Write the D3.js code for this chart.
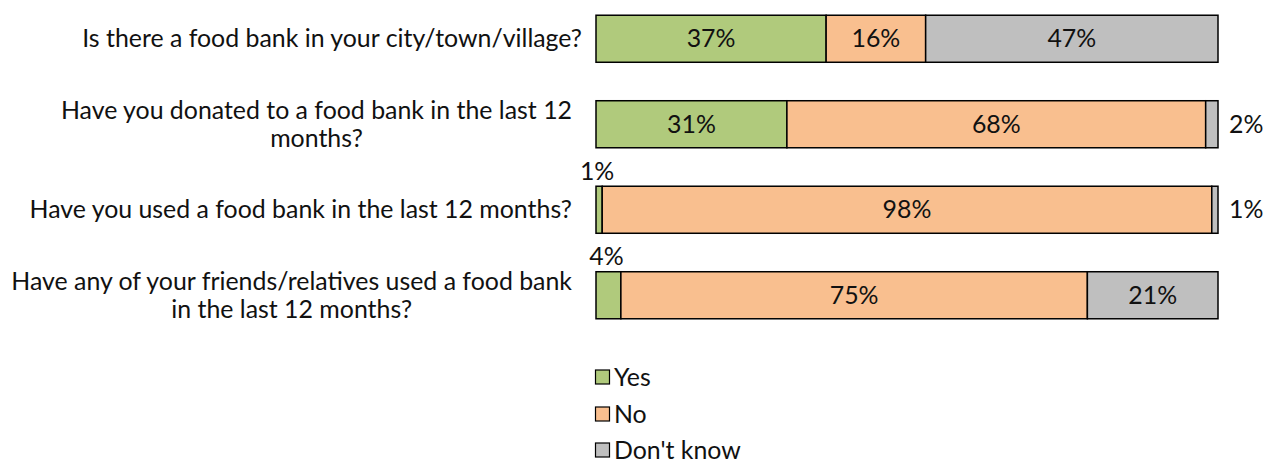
<!DOCTYPE html>
<html>
<head>
<meta charset="utf-8">
<script src="https://cdn.jsdelivr.net/npm/d3@7"></script>
<style>
  html, body { margin: 0; padding: 0; background: #fff; }
  svg { display: block; }
  text { font-family: Lato, "Open Sans", sans-serif; fill: #111; }
</style>
</head>
<body>
<svg id="chart" width="1263" height="464"></svg>
<script>
// Survey questions (one bar each) and the share of answers per option, in percent
const questions = [
  "Is there a food bank in your city/town/village?",
  "Have you donated to a food bank in the last 12 months?",
  "Have you used a food bank in the last 12 months?",
  "Have any of your friends/relatives used a food bank in the last 12 months?"
];
const answers = ["Yes", "No", "Don't know"];
const yesValues = [37, 31, 1, 4];
const noValues = [16, 68, 98, 75];
const dontKnowValues = [47, 2, 1, 21];

// Manual line breaks for the longer question labels
const questionLines = [
  ["Is there a food bank in your city/town/village?"],
  ["Have you donated to a food bank in the last 12", "months?"],
  ["Have you used a food bank in the last 12 months?"],
  ["Have any of your friends/relatives used a food bank", "in the last 12 months?"]
];

const colors = { "Yes": "#b0ca7c", "No": "#f9bf8f", "Don't know": "#bfbfbf" };

const rows = questions.map((q, i) => ({
  question: q,
  "Yes": yesValues[i],
  "No": noValues[i],
  "Don't know": dontKnowValues[i]
}));

const svg = d3.select("#chart");

// Pick a font size so the first label spans its target width
const probe = svg.append("text").attr("font-size", 20).text(questionLines[0][0]);
const fontSize = 20 * 500 / probe.node().getComputedTextLength();
probe.remove();

const x = d3.scaleLinear().domain([0, 1]).range([596, 1218]);
const y = d3.scaleBand()
  .domain(questions)
  .range([-4, 338])
  .paddingInner(0.45)
  .paddingOuter(0.225);

// 100% stacked series
const stack = d3.stack().keys(answers).offset(d3.stackOffsetExpand);
const series = stack(rows);

const g = svg.append("g");

series.forEach(s => {
  const key = s.key;
  g.selectAll(null)
    .data(s)
    .join("rect")
    .attr("x", d => x(d[0]))
    .attr("y", d => y(d.data.question))
    .attr("width", d => x(d[1]) - x(d[0]))
    .attr("height", y.bandwidth())
    .attr("fill", colors[key])
    .attr("stroke", "#000")
    .attr("stroke-width", 1.5);
});

// Value labels: inside the segment when there is room, otherwise outside the bar
series.forEach(s => {
  const key = s.key;
  s.forEach(d => {
    const v = d.data[key];
    const top = y(d.data.question);
    const mid = top + y.bandwidth() / 2;
    const cx = (x(d[0]) + x(d[1])) / 2;
    const label = g.append("text")
      .attr("font-size", fontSize)
      .attr("dy", "0.35em")
      .text(v + "%");
    if (v >= 5) {
      label.attr("x", cx).attr("y", mid).attr("text-anchor", "middle");
    } else if (key === "Yes") {
      label.attr("x", cx - 2).attr("y", top - 15).attr("text-anchor", "middle");
    } else {
      label.attr("x", x(1) + 11).attr("y", mid).attr("text-anchor", "start");
    }
  });
});

// Category labels: each block sits left of the axis, its lines centred inside it
const labelRight = [582, 572, 572, 572];
const lineGap = 28;
questions.forEach((q, i) => {
  const lines = questionLines[i];
  const t = g.append("text").attr("font-size", fontSize).attr("text-anchor", "middle");
  const spans = lines.map(l => t.append("tspan").text(l));
  const w = d3.max(spans, s => s.node().getComputedTextLength());
  const cx = labelRight[i] - w / 2;
  const mid = y(q) + y.bandwidth() / 2;
  const first = mid - (lines.length - 1) * lineGap / 2;
  spans.forEach((s, j) => s.attr("x", cx).attr("y", first + j * lineGap).attr("dy", "0.35em"));
});

// Legend
const legend = svg.append("g");
const legendY = [377, 414, 450];
answers.forEach((a, i) => {
  legend.append("rect")
    .attr("x", 595.5).attr("y", legendY[i] - 7)
    .attr("width", 14).attr("height", 14)
    .attr("fill", colors[a])
    .attr("stroke", "#000").attr("stroke-width", 1.2);
  legend.append("text")
    .attr("x", 614).attr("y", legendY[i])
    .attr("dy", "0.35em")
    .attr("font-size", fontSize)
    .text(a);
});
</script>
</body>
</html>
